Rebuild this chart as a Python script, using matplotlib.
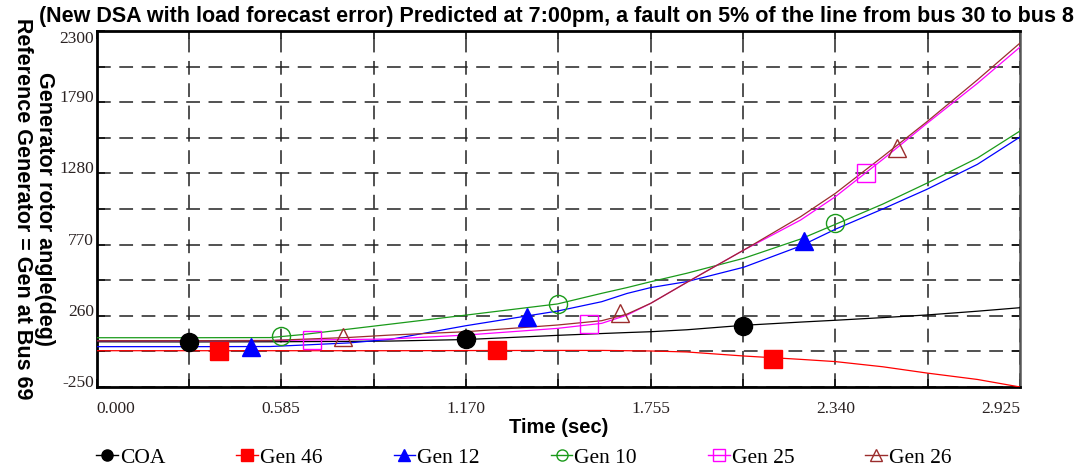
import matplotlib
matplotlib.use("Agg")
import matplotlib.pyplot as plt
from matplotlib.lines import Line2D
from matplotlib.ticker import FixedLocator

# time axis (sec) shared by all traces
t = [0.0, 0.3, 0.55, 0.65, 0.8, 0.93, 1.17, 1.46, 1.6, 1.68, 1.755,
     1.87, 2.05, 2.23, 2.34, 2.49, 2.63, 2.79, 2.925]

# rotor angles (deg)
coa = [74, 73, 74, 75, 77, 79, 90, 120, 133, 140, 146, 160, 192, 215, 228, 247, 266, 293, 318]
gen46 = [10, 10, 10, 10, 10, 10, 11, 12, 12, 10, 8, 1, -28, -52, -68, -105, -150, -196, -250]
gen12 = [39, 39, 40, 50, 66, 91, 189, 294, 361, 420, 462, 505, 608, 760, 880, 1025, 1166, 1345, 1541]
gen10 = [103, 103, 104, 125, 165, 200, 265, 345, 421, 462, 504, 565, 672, 810, 915, 1060, 1210, 1390, 1584]
gen25 = [82, 82, 83, 86, 90, 94, 122, 170, 206, 265, 349, 500, 731, 946, 1113, 1380, 1638, 1925, 2185]
gen26 = [82, 82, 83, 92, 105, 122, 146, 194, 225, 272, 349, 500, 731, 970, 1137, 1400, 1650, 1950, 2214]

# marker points along each trace
coa_mk_t, coa_mk_v = [0.293, 1.170, 2.046], [73, 92, 189]
gen46_mk_t, gen46_mk_v = [0.389, 1.267, 2.143], [8, 15, -48]
gen12_mk_t, gen12_mk_v = [0.488, 1.364, 2.240], [38, 250, 797]
gen10_mk_t, gen10_mk_v = [0.584, 1.462, 2.338], [112, 345, 925]
gen25_mk_t, gen25_mk_v = [0.684, 1.560, 2.438], [90, 200, 1284]
gen26_mk_t, gen26_mk_v = [0.780, 1.657, 2.535], [107, 280, 1465]

names = ["COA", "Gen 46", "Gen 12", "Gen 10", "Gen 25", "Gen 26"]

x_ticks = [0.000, 0.585, 1.170, 1.755, 2.340, 2.925]
x_minor = [0.2925, 0.8775, 1.4625, 2.0475, 2.6325]
y_ticks = [-250, 260, 770, 1280, 1790, 2300]
y_minor = [5, 515, 1025, 1535, 2045]

series = [
    (coa, coa_mk_t, coa_mk_v, "black", "o", "black"),
    (gen46, gen46_mk_t, gen46_mk_v, "#ff0000", "s", "#ff0000"),
    (gen12, gen12_mk_t, gen12_mk_v, "#0000ff", "^", "#0000ff"),
    (gen10, gen10_mk_t, gen10_mk_v, "#1a9a1a", "o", "none"),
    (gen25, gen25_mk_t, gen25_mk_v, "#ff00ff", "s", "none"),
    (gen26, gen26_mk_t, gen26_mk_v, "#9b2d2d", "^", "none"),
]

fig = plt.figure(figsize=(10.81, 4.70), dpi=100)
ax = fig.add_axes([0.0893, 0.1766, 0.8543, 0.7574])

ax.set_xlim(0, 2.925)
ax.set_ylim(-250, 2300)

handles = []
for (vals, mt, mv, col, mk, fc), name in zip(series, names):
    ax.plot(t, vals, color=col, lw=0.9, zorder=3)
    ax.plot(mt, mv, ls="none", marker=mk, ms=13, mfc=fc, mec=col, mew=1.0, zorder=4)
    handles.append(Line2D([], [], color=col, lw=1.0, marker=mk, ms=8,
                          mfc=fc, mec=col, mew=1.0))

# dashed grid on every tick, labelled every other one
ax.xaxis.set_major_locator(FixedLocator(x_ticks))
ax.xaxis.set_minor_locator(FixedLocator(x_minor))
ax.yaxis.set_major_locator(FixedLocator(y_ticks))
ax.yaxis.set_minor_locator(FixedLocator(y_minor))
ax.set_xticklabels(["%.3f" % v for v in x_ticks])
ax.set_yticklabels([str(v) for v in y_ticks])
ax.grid(True, which="both", color="#222222", lw=1.1, ls=(0, (9, 5.6)), zorder=1)

ax.tick_params(which="both", direction="in", length=6, width=1.2,
               top=True, right=True, colors="#111111")
ax.tick_params(axis="x", pad=10, labelsize=12.5)
ax.tick_params(axis="y", pad=2, labelsize=12.5)
for lab in ax.get_xticklabels() + ax.get_yticklabels():
    lab.set_family("Liberation Serif")
    lab.set_color("#2a2222")
xl = ax.get_xticklabels()
xl[0].set_ha("left")
xl[-1].set_ha("right")
for lab in ax.get_yticklabels():
    lab.set_va("baseline")
ax.get_yticklabels()[-1].set_va("top")

for side in ["left", "bottom", "top"]:
    ax.spines[side].set_linewidth(2.0)
    ax.spines[side].set_color("black")
ax.spines["right"].set_linewidth(1.8)
ax.spines["right"].set_color("#555555")

ax.set_xlabel("Time (sec)", family="Liberation Sans", weight="bold", fontsize=14.5, labelpad=1)
fig.text(0.031, 0.555, "Generator rotor angle(deg)\nReference Generator = Gen at Bus 69",
         rotation=-90, ha="center", va="center", family="Liberation Sans",
         weight="bold", fontsize=15.5, linespacing=1.1, multialignment="center")

fig.suptitle("(New DSA with load forecast error) Predicted at 7:00pm, a fault on 5% of the line from bus 30 to bus 8",
             x=0.515, y=0.988, family="Liberation Sans", weight="bold", fontsize=15.5)

fig.legend(handles, names, loc="upper left", bbox_to_anchor=(0.089, 0.048),
           ncol=6, frameon=False, handlelength=1.0, handletextpad=0.1,
           columnspacing=3.3, borderpad=0, borderaxespad=0,
           prop={"family": "Liberation Serif", "size": 15.5})

fig.savefig("out.png", dpi=100)
